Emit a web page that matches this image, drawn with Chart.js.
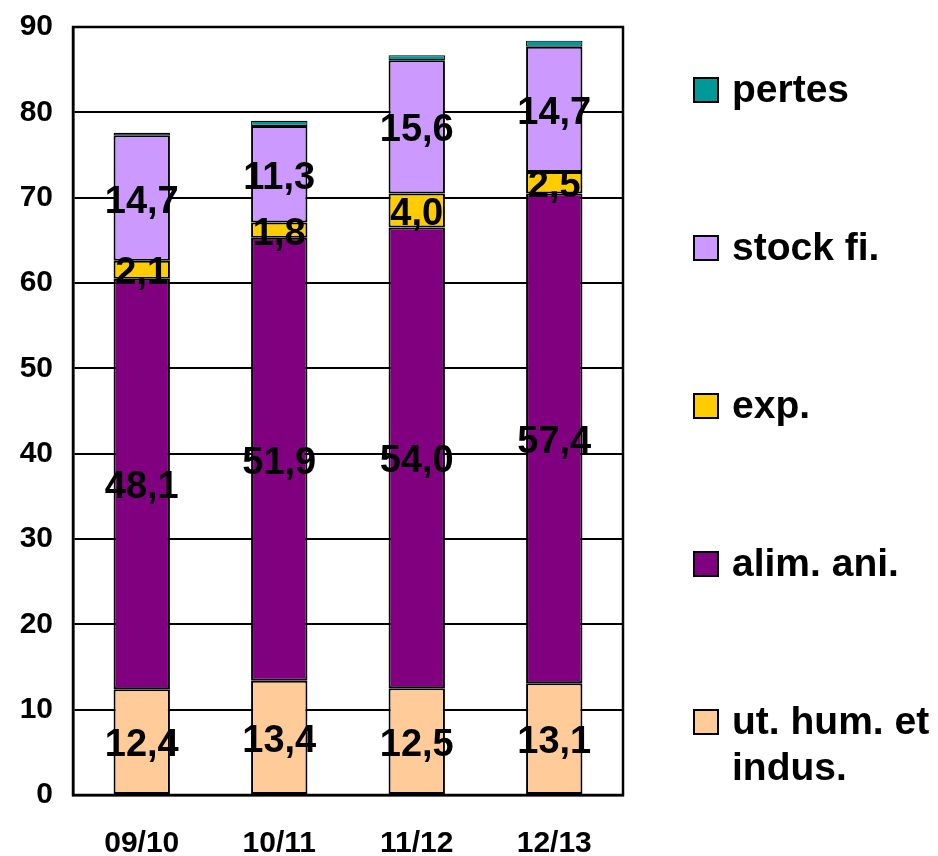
<!DOCTYPE html>
<html>
<head>
<meta charset="utf-8">
<script src="https://cdn.jsdelivr.net/npm/chart.js@4/dist/chart.umd.min.js"></script>
<style>
  body { margin: 0; background: #fff; }
  #wrap { position: relative; width: 938px; height: 856px; }
  #legend {
    position: absolute; left: 693px; top: 66px;
    font-family: "Liberation Sans", Arial, sans-serif; font-weight: bold; font-size: 39px;
  }
  #legend .item { display: flex; align-items: flex-start; height: 158px; }
  #legend .box { width: 22px; height: 22px; border: 2px solid #000; margin-top: 11px; margin-right: 13px; flex: none; }
  #legend .txt { line-height: 46px; width: 206px; }
</style>
</head>
<body>
<div id="wrap">
  <canvas id="myChart" width="938" height="856"></canvas>
  <div id="legend"></div>
</div>
<script>
const categories = ['09/10', '10/11', '11/12', '12/13'];
const seriesNames = ['ut. hum. et indus.', 'alim. ani.', 'exp.', 'stock fi.', 'pertes'];
const utHum = [12.4, 13.4, 12.5, 13.1];
const alimAni = [48.1, 51.9, 54.0, 57.4];
const expo = [2.1, 1.8, 4.0, 2.5];
const stockFi = [14.7, 11.3, 15.6, 14.7];
const pertes = [0.3, 0.6, 0.6, 0.7];
const colors = ['#FFCC99', '#800080', '#FFCC00', '#CC99FF', '#009999'];

const font = '"Liberation Sans", Arial, sans-serif';

function buildDatasets() {
  const values = [utHum, alimAni, expo, stockFi, pertes];
  return values.map((vals, i) => ({
    label: seriesNames[i],
    data: vals,
    backgroundColor: colors[i],
    borderColor: '#000',
    // thin top slice gets a thinner outline so its colour still shows
    borderWidth: i === 4 ? 1.2 : 2,
    borderSkipped: false,
    categoryPercentage: 1,
    barPercentage: 0.41,
    showValue: i < 4,
  }));
}

// writes each segment value in the middle of its bar piece, with a comma decimal
const valueLabels = {
  id: 'valueLabels',
  afterDatasetsDraw(chart) {
    const c = chart.ctx;
    c.save();
    c.font = 'bold 38px ' + font;
    c.fillStyle = '#000';
    c.textAlign = 'center';
    c.textBaseline = 'middle';
    chart.data.datasets.forEach((ds, di) => {
      if (!ds.showValue) return;
      chart.getDatasetMeta(di).data.forEach((bar, i) => {
        const txt = ds.data[i].toFixed(1).replace('.', ',');
        c.fillText(txt, bar.x, (bar.y + bar.base) / 2 + 4);
      });
    });
    c.restore();
  }
};

// box round the plot area
const plotFrame = {
  id: 'plotFrame',
  afterDraw(chart) {
    const a = chart.chartArea;
    const c = chart.ctx;
    c.save();
    c.strokeStyle = '#000';
    c.lineWidth = 2.5;
    c.strokeRect(a.left, a.top, a.right - a.left, a.bottom - a.top);
    c.restore();
  }
};

var ctx = document.getElementById('myChart');

var myChart = new Chart(ctx, {
  type: 'bar',
  data: {
    labels: categories,
    datasets: buildDatasets()
  },
  plugins: [valueLabels, plotFrame],
  options: {
    responsive: false,
    animation: false,
    layout: { padding: { top: 27, right: 315, bottom: 0, left: 0 } },
    plugins: {
      legend: { display: false },
      tooltip: { enabled: false }
    },
    scales: {
      x: {
        stacked: true,
        grid: { display: false, drawTicks: false },
        border: { display: true, color: '#000', width: 2.5 },
        ticks: { color: '#000', padding: 31, font: { family: font, weight: 'bold', size: 30 } },
        afterFit(scale) { scale.height = 61; }
      },
      y: {
        stacked: true,
        min: 0,
        max: 90,
        // invisible tick marks keep the labels off the axis
        grid: { color: '#000', lineWidth: 2, tickLength: 18, tickColor: 'rgba(0,0,0,0)' },
        border: { display: true, color: '#000', width: 2.5 },
        ticks: { stepSize: 10, color: '#000', padding: 2, font: { family: font, weight: 'bold', size: 30 } },
        afterFit(scale) { scale.width = 73; }
      }
    }
  }
});

// legend on the right, top series first
var legendEl = document.getElementById('legend');
myChart.data.datasets.slice().reverse().forEach((ds) => {
  var item = document.createElement('div');
  item.className = 'item';
  item.innerHTML = '<div class="box" style="background:' + ds.backgroundColor + '"></div><div class="txt">' + ds.label + '</div>';
  legendEl.appendChild(item);
});
</script>
</body>
</html>
